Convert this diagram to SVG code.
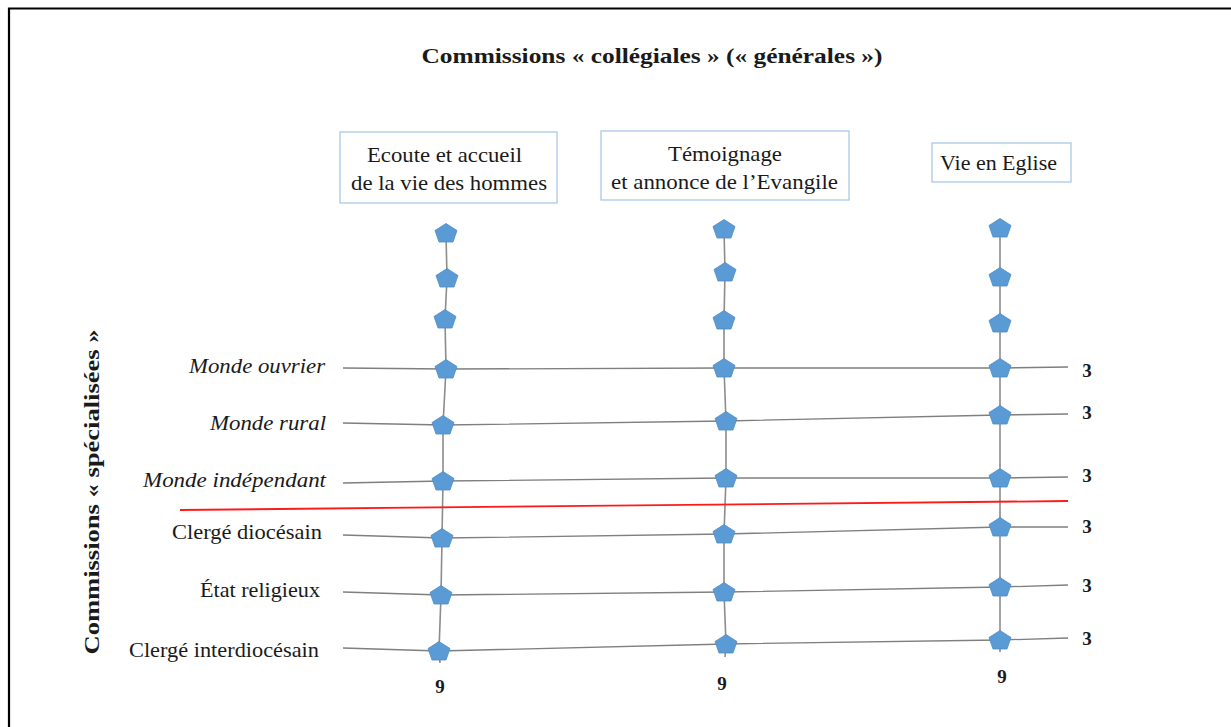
<svg xmlns="http://www.w3.org/2000/svg" width="1231" height="727" viewBox="0 0 1231 727">
<style>
text{font-family:"Liberation Serif","Times New Roman",serif;fill:#1a1a1a}
.t{font-size:21px}
.b{font-weight:bold}
.i{font-style:italic}
.box{fill:#fff;stroke:#a9c8ea;stroke-width:1.3}
.ln{fill:none;stroke:#7f7f7f;stroke-width:1.3}
.vl{fill:none;stroke:#8c8c8c;stroke-width:1.6}
.pent{fill:#5b9bd5;stroke:#4f8cc4;stroke-width:0.8}
</style>
<defs>
<path id="p" d="M0,-9.5 L11,-2.5 L7,9 L-7,9 L-11,-2.5 Z"/>
</defs>
<rect x="0" y="0" width="1231" height="727" fill="#fff"/>
<path d="M9,727 V8.5 H1231" fill="none" stroke="#000" stroke-width="2.2"/>
<text x="652" y="63" text-anchor="middle" class="b" font-size="21" textLength="461" lengthAdjust="spacingAndGlyphs">Commissions « collégiales » (« générales »)</text>
<text transform="translate(99,492) rotate(-90)" text-anchor="middle" class="b" font-size="22" textLength="325" lengthAdjust="spacingAndGlyphs">Commissions « spécialisées »</text>
<g id="box-ecoute">
<rect class="box" x="340" y="132" width="217" height="71"/>
<text class="t" x="444.5" y="162" text-anchor="middle" textLength="155" lengthAdjust="spacingAndGlyphs">Ecoute et accueil</text>
<text class="t" x="449" y="190" text-anchor="middle" textLength="196" lengthAdjust="spacingAndGlyphs">de la vie des hommes</text>
</g>
<g id="box-temoignage">
<rect class="box" x="601" y="131" width="248" height="69"/>
<text class="t" x="725" y="161" text-anchor="middle" textLength="114" lengthAdjust="spacingAndGlyphs">Témoignage</text>
<text class="t" x="724.5" y="189" text-anchor="middle" textLength="227" lengthAdjust="spacingAndGlyphs">et annonce de l’Evangile</text>
</g>
<g id="box-vie">
<rect class="box" x="932" y="143" width="139" height="39"/>
<text class="t" x="998.5" y="170" text-anchor="middle" textLength="117" lengthAdjust="spacingAndGlyphs">Vie en Eglise</text>
</g>
<g id="connectors">
<polyline class="vl" points="446,233 447,278 445,319 446,369 443,425 443,481 442,538 441,595 439,651 440,663"/>
<polyline class="vl" points="724,229 725,272 724,320 724,368 726,421 726,478 724,534 724,592 726,644 725,657"/>
<polyline class="vl" points="1000,228 1000,277 1000,323 1000,368 1000,415 1000,478 1000,527 1000,587 1000,640 1000,652"/>
<polyline class="ln" points="343,368 446,369 724,368 1000,368 1068,367"/>
<polyline class="ln" points="343,423 443,425 726,421 1000,415 1068,414"/>
<polyline class="ln" points="343,483 443,481 726,478 1000,478 1068,477"/>
<polyline class="ln" points="343,535 442,538 724,534 1000,527 1068,527"/>
<polyline class="ln" points="343,592 441,595 724,592 1000,587 1068,585"/>
<polyline class="ln" points="343,648 439,651 726,644 1000,640 1068,638"/>
<line x1="180" y1="510" x2="1068" y2="501" stroke="#ff1a1a" stroke-width="1.8"/>
</g>
<g id="col1">
<use href="#p" class="pent" x="446" y="233"/>
<use href="#p" class="pent" x="447" y="278"/>
<use href="#p" class="pent" x="445" y="319"/>
<use href="#p" class="pent" x="446" y="369"/>
<use href="#p" class="pent" x="443" y="425"/>
<use href="#p" class="pent" x="443" y="481"/>
<use href="#p" class="pent" x="442" y="538"/>
<use href="#p" class="pent" x="441" y="595"/>
<use href="#p" class="pent" x="439" y="651"/>
</g>
<g id="col2">
<use href="#p" class="pent" x="724" y="229"/>
<use href="#p" class="pent" x="725" y="272"/>
<use href="#p" class="pent" x="724" y="320"/>
<use href="#p" class="pent" x="724" y="368"/>
<use href="#p" class="pent" x="726" y="421"/>
<use href="#p" class="pent" x="726" y="478"/>
<use href="#p" class="pent" x="724" y="534"/>
<use href="#p" class="pent" x="724" y="592"/>
<use href="#p" class="pent" x="726" y="644"/>
</g>
<g id="col3">
<use href="#p" class="pent" x="1000" y="228"/>
<use href="#p" class="pent" x="1000" y="277"/>
<use href="#p" class="pent" x="1000" y="323"/>
<use href="#p" class="pent" x="1000" y="368"/>
<use href="#p" class="pent" x="1000" y="415"/>
<use href="#p" class="pent" x="1000" y="478"/>
<use href="#p" class="pent" x="1000" y="527"/>
<use href="#p" class="pent" x="1000" y="587"/>
<use href="#p" class="pent" x="1000" y="640"/>
</g>
<g id="row-labels">
<text class="t i" x="325" y="373" text-anchor="end" textLength="136" lengthAdjust="spacingAndGlyphs">Monde ouvrier</text>
<text class="t i" x="326" y="430" text-anchor="end" textLength="116" lengthAdjust="spacingAndGlyphs">Monde rural</text>
<text class="t i" x="326" y="487" text-anchor="end" textLength="183" lengthAdjust="spacingAndGlyphs">Monde indépendant</text>
<text class="t" x="322" y="539" text-anchor="end" textLength="150" lengthAdjust="spacingAndGlyphs">Clergé diocésain</text>
<text class="t" x="320" y="597" text-anchor="end" textLength="120" lengthAdjust="spacingAndGlyphs">État religieux</text>
<text class="t" x="319" y="657" text-anchor="end" textLength="190" lengthAdjust="spacingAndGlyphs">Clergé interdiocésain</text>
</g>
<g id="totals" font-size="19">
<text x="1087" y="377" text-anchor="middle" font-weight="bold">3</text>
<text x="1087" y="419" text-anchor="middle" font-weight="bold">3</text>
<text x="1087" y="482" text-anchor="middle" font-weight="bold">3</text>
<text x="1087" y="533" text-anchor="middle" font-weight="bold">3</text>
<text x="1087" y="592" text-anchor="middle" font-weight="bold">3</text>
<text x="1087" y="645" text-anchor="middle" font-weight="bold">3</text>
<text x="440" y="693" text-anchor="middle" font-weight="bold">9</text>
<text x="722" y="690" text-anchor="middle" font-weight="bold">9</text>
<text x="1002" y="683" text-anchor="middle" font-weight="bold">9</text>
</g>
</svg>
